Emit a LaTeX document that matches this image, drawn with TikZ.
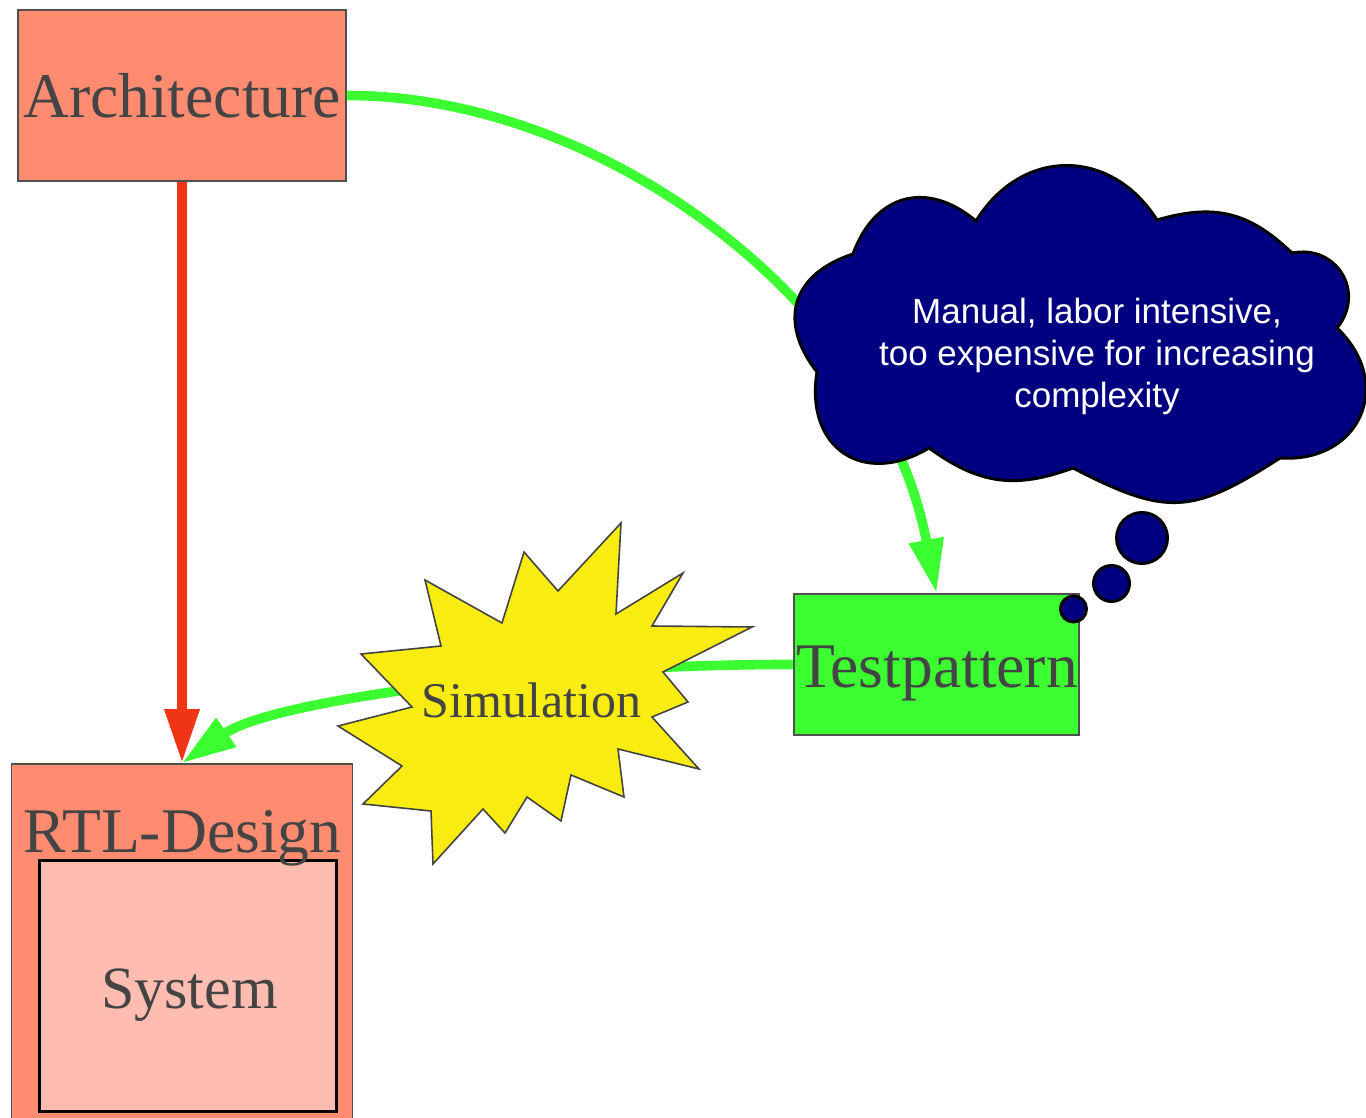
\documentclass[tikz,border=0pt]{standalone}
\usepackage{fontspec}
\setmainfont{Liberation Serif}
\newfontfamily\cloudfont{Liberation Sans}
\usetikzlibrary{arrows.meta}

\definecolor{salmon}{RGB}{255,140,112}
\definecolor{palesalmon}{RGB}{255,188,176}
\definecolor{brightgreen}{RGB}{60,255,50}
\definecolor{arrowred}{RGB}{240,52,22}
\definecolor{burstyellow}{RGB}{248,236,16}
\definecolor{thinkblue}{RGB}{0,0,128}
\definecolor{labelgray}{RGB}{68,68,68}
\definecolor{boxline}{RGB}{80,80,80}

\begin{document}
\begin{tikzpicture}[x=0.5pt,y=0.5pt,
  box/.style={draw=boxline, line width=0.9pt, inner sep=0pt},
  lbl/.style={text=labelgray, font=\fontsize{31.8}{38}\selectfont, anchor=base, inner sep=0pt},
  flow/.style={line width=4.8pt, -{Triangle[length=27pt,width=16.5pt]}},
  bubble/.style={fill=thinkblue, draw=black, line width=1.5pt},
  burst/.style={fill=burstyellow, draw=labelgray, line width=0.8pt, line join=miter}]

\useasboundingbox (0,0) rectangle (1366,-1118);
\clip (0,0) rectangle (1366,-1118);

% boxes
\node[box, fill=salmon, minimum width=164pt, minimum height=85.5pt] (arch) at (182,-95.5) {};
\node[box, fill=salmon, minimum width=170.5pt, minimum height=188pt] (rtl) at (182,-952) {};
\node[draw=black, line width=1.5pt, fill=palesalmon, inner sep=0pt,
      minimum width=148.5pt, minimum height=125.5pt] (sys) at (187.5,-985.5) {};
\node[box, fill=brightgreen, minimum width=142.5pt, minimum height=70.5pt] (tp) at (936.5,-664.5) {};

\node[lbl] (archlbl) at (182,-118) {Architecture};
\node[lbl] (rtllbl) at (182.5,-852) {RTL-Design};
\node[lbl, font=\fontsize{30}{36}\selectfont] (syslbl) at (189.5,-1008) {System};
\node[lbl] (tplbl) at (937,-687) {Testpattern};

% connectors
\draw[flow, color=arrowred] (arch.south) -- (rtl.north);
\draw[flow, color=brightgreen] (arch.east) .. controls (600,-95) and (880,-300) .. (tp.north);
\draw[flow, color=brightgreen] (tp.west) .. controls (544,-664) and (273,-700) .. (rtl.north);

% simulation burst
\draw[burst] (621,-523) -- (616,-614) -- (683,-573) -- (652,-626) -- (752,-627)
  -- (663,-672) -- (688,-702) -- (652,-717) -- (699,-769) -- (618,-749)
  -- (624,-797) -- (571,-775) -- (561,-821) -- (527,-797) -- (505,-833)
  -- (483,-809) -- (433,-864) -- (431,-811) -- (363,-804) -- (402,-766)
  -- (338,-726) -- (412,-707) -- (361,-654) -- (441,-646) -- (425,-580)
  -- (502,-623) -- (524,-552) -- (558,-591) -- cycle;
\node[text=labelgray, font=\fontsize{25}{30}\selectfont, anchor=base, inner sep=0pt]
  (sim) at (531.5,-717) {Simulation};

% thought cloud
\draw[bubble] (817,-372)
  to[bend left=55, looseness=1.33] (853,-254)
  to[bend left=55, looseness=1.29] (976,-221)
  to[bend left=58, looseness=1.22] (1157,-220)
  to[bend left=30, looseness=1.1] (1292,-253)
  to[bend left=70, looseness=1.34] (1337,-328)
  to[bend left=70, looseness=1.45] (1280,-458)
  to[bend left=30, looseness=1.3] (1073,-468)
  to[bend left=28, looseness=1.09] (929,-448)
  to[bend left=65, looseness=1.45] (817,-372) -- cycle;
\draw[bubble] (1142,-538) circle[radius=25.5];
\draw[bubble] (1111.5,-583.5) circle[radius=18];
\draw[bubble] (1073.5,-609) circle[radius=13];

\node[text=white, align=center, inner sep=0pt,
      font=\cloudfont\fontsize{17.5}{21}\selectfont] (note) at (1097,-356)
  {Manual, labor intensive,\\too expensive for increasing\\complexity};

\end{tikzpicture}
\end{document}
